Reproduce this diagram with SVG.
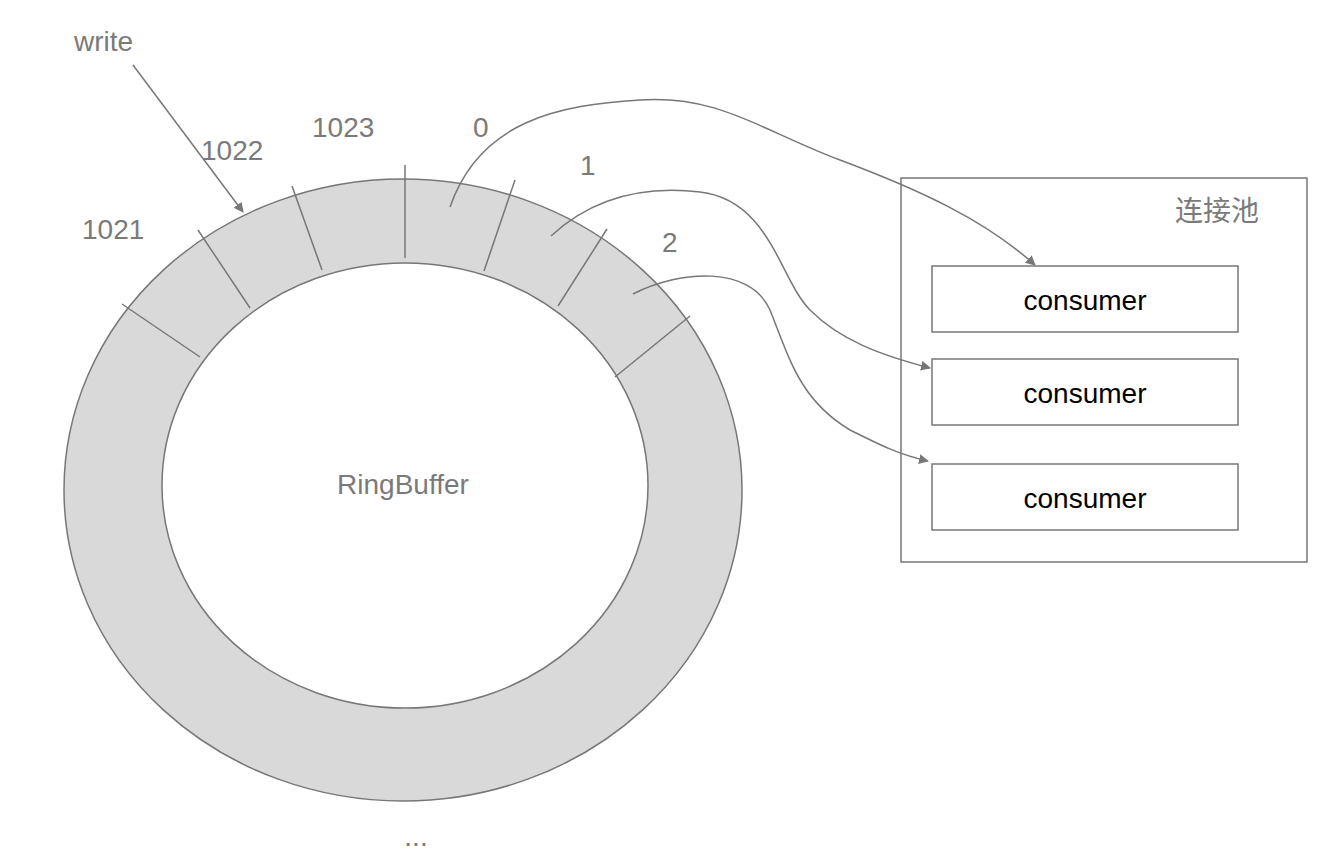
<svg xmlns="http://www.w3.org/2000/svg" width="1328" height="866" viewBox="0 0 1328 866">
<style>
.l{stroke:#777;stroke-width:1.5;fill:none}
.t{font-family:"Helvetica Neue","Liberation Sans",Arial,sans-serif;font-size:28px;fill:#7a7a7a}
.c{font-family:"Helvetica Neue","Liberation Sans",Arial,sans-serif;font-size:28px;fill:#000;text-anchor:middle}
.box{fill:#fff;stroke:#777;stroke-width:1.5}
</style>
<defs><marker id="a" viewBox="0 0 10 10" refX="9" refY="5" markerWidth="10" markerHeight="10" markerUnits="userSpaceOnUse" orient="auto"><path d="M0,0L10,5L0,10z" fill="#777"/></marker></defs>
<rect width="1328" height="866" fill="#fff"/>
<g id="ring">
<path fill-rule="evenodd" fill="#d9d9d9" stroke="#777" stroke-width="1.5" d="M64,490a339,311 0 1,0 678,0a339,311 0 1,0 -678,0z M162,485.5a243,222.5 0 1,0 486,0a243,222.5 0 1,0 -486,0z"/>
<g class="l"><line x1="405" y1="165" x2="405" y2="258"/><line x1="292" y1="186" x2="322" y2="270"/><line x1="198" y1="230" x2="250" y2="308"/><line x1="122" y1="304" x2="200" y2="357"/><line x1="515" y1="180" x2="484" y2="271"/><line x1="607" y1="229" x2="558" y2="306"/><line x1="690" y1="316" x2="615" y2="377"/></g>
<text class="t" x="403" y="494" text-anchor="middle">RingBuffer</text>
<text class="t" x="82" y="239">1021</text><text class="t" x="201" y="160">1022</text><text class="t" x="312" y="137">1023</text><text class="t" x="473" y="137">0</text><text class="t" x="580" y="175">1</text><text class="t" x="662" y="252">2</text>
<text class="t" x="74" y="51">write</text>
<text class="t" x="416" y="846" text-anchor="middle">...</text>
</g>
<g id="pool"><rect class="box" x="901" y="178" width="406" height="384"/><text class="t" x="1217" y="221" text-anchor="middle" style="font-family:'Noto Sans CJK SC',sans-serif">连接池</text></g>
<g id="c1"><rect class="box" x="932" y="266" width="306" height="66"/><text class="c" x="1085" y="310">consumer</text></g>
<g id="c2"><rect class="box" x="932" y="359" width="306" height="66"/><text class="c" x="1085" y="403">consumer</text></g>
<g id="c3"><rect class="box" x="932" y="464" width="306" height="66"/><text class="c" x="1085" y="508">consumer</text></g>
<g id="connectors" class="l" marker-end="url(#a)">
<path d="M133,65L243,212"/>
<path d="M450,207C480,120 560,105 640,100C720,95 760,130 840,160C920,190 985,220 1035,265"/>
<path d="M551,236C590,200 640,185 700,192C770,200 780,280 810,310C840,340 880,355 930,368"/>
<path d="M633,294C680,270 750,265 770,310C790,360 800,400 850,430C880,445 900,455 928,461"/>
</g>
</svg>
